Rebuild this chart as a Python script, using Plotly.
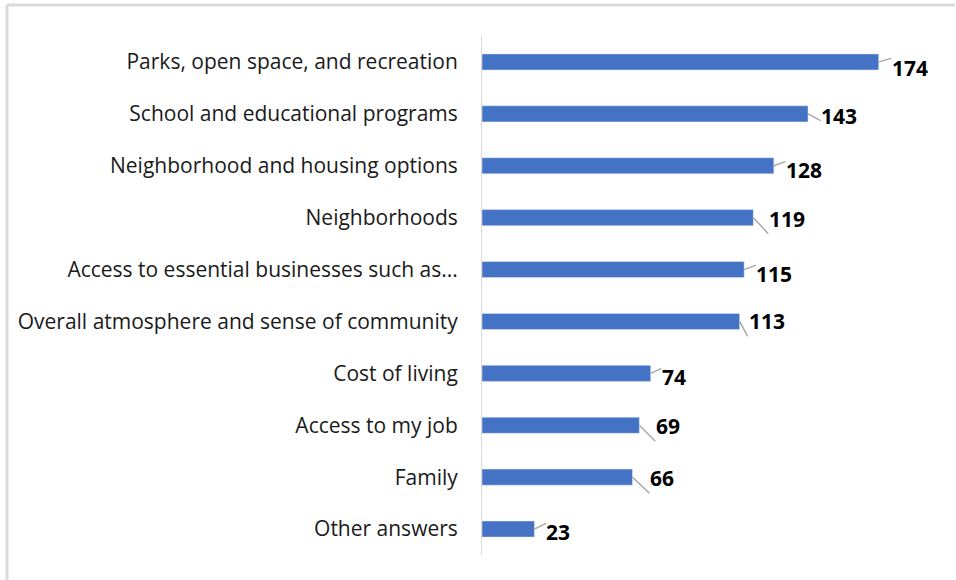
import plotly.graph_objects as go

# Survey answers, top to bottom as shown
categories = [
    "Parks, open space, and recreation",
    "School and educational programs",
    "Neighborhood and housing options",
    "Neighborhoods",
    "Access to essential businesses such as...",
    "Overall atmosphere and sense of community",
    "Cost of living",
    "Access to my job",
    "Family",
    "Other answers",
]
counts = [174, 143, 128, 119, 115, 113, 74, 69, 66, 23]

# label placement (pixel offsets from bar end, anchors) - mimics Excel leader lines
label_styles = [
    dict(ax=31, ay=-9, xanchor="center", yanchor="top"),
    dict(ax=31, ay=17, xanchor="center", yanchor="bottom"),
    dict(ax=30, ay=-11, xanchor="center", yanchor="top"),
    dict(ax=15, ay=16, xanchor="left", yanchor="bottom"),
    dict(ax=30, ay=-11, xanchor="center", yanchor="top"),
    dict(ax=8, ay=15, xanchor="left", yanchor="bottom"),
    dict(ax=23, ay=-11, xanchor="center", yanchor="top"),
    dict(ax=16, ay=16, xanchor="left", yanchor="bottom"),
    dict(ax=17, ay=16, xanchor="left", yanchor="bottom"),
    dict(ax=24, ay=-12, xanchor="center", yanchor="top"),
]

W, H = 956, 580
ML, MR, MT, MB = 482, 18, 36, 25

fig = go.Figure(go.Bar(
    x=counts,
    y=categories,
    orientation="h",
    marker=dict(color="#4472C4"),
    width=0.31,
    hoverinfo="x+y",
))

for cat, val, st in zip(categories, counts, label_styles):
    fig.add_annotation(
        x=val, y=cat, text=f"<b>{val}</b>",
        showarrow=True, arrowhead=0, arrowwidth=1.4, arrowcolor="#a6a6a6",
        axref="pixel", ayref="pixel", standoff=0,
        font=dict(family="Open Sans", size=21, color="#000000"),
        borderpad=0,
        **st,
    )

# light frame on top and left, like the cropped chart border
pw = W - ML - MR
ph = H - MT - MB
x_left = (7 - ML) / pw
y_top = 1 + (MT - 5) / ph
fig.add_shape(type="line", xref="paper", yref="paper", x0=x_left, x1=(955 - ML) / pw,
              y0=y_top, y1=y_top, line=dict(color="#d9d9d9", width=3))
fig.add_shape(type="line", xref="paper", yref="paper", x0=x_left, x1=x_left,
              y0=y_top, y1=-MB / ph, line=dict(color="#d9d9d9", width=3))

fig.update_layout(
    width=W, height=H,
    margin=dict(l=ML, r=MR, t=MT, b=MB),
    plot_bgcolor="white", paper_bgcolor="white",
    showlegend=False,
    font=dict(family="Open Sans", size=21, color="#1a1a1a"),
    xaxis=dict(range=[0, 200], visible=False, fixedrange=True),
    yaxis=dict(
        autorange="reversed",
        showline=True, linecolor="#d9d9d9", linewidth=1,
        ticks="", showgrid=False, ticklabelstandoff=19,
        tickfont=dict(family="Open Sans", size=21, color="#1a1a1a"),
    ),
)

# page has a default 8px body margin; drop it so the figure sits at the window origin
fig.write_html("out.html", config={"displayModeBar": False},
               post_script="document.body.style.margin='0';")
